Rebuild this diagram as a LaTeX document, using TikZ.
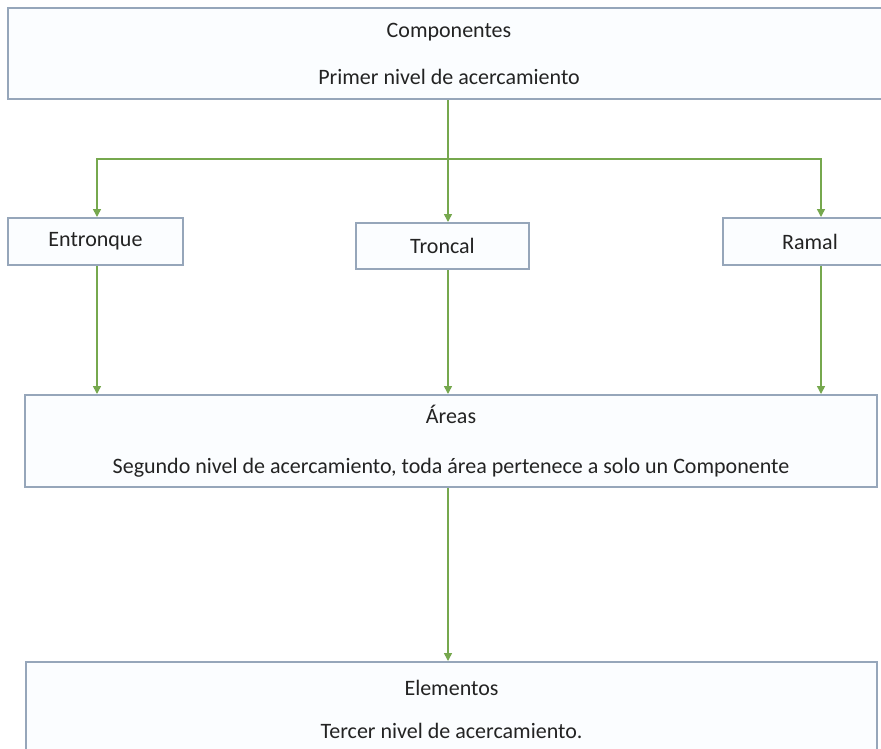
\documentclass[tikz,border=0pt]{standalone}
\usepackage{fontspec}
\setmainfont{Carlito}
\usetikzlibrary{arrows.meta}
\definecolor{boxline}{RGB}{150,166,186}
\definecolor{boxfill}{RGB}{251,253,255}
\definecolor{flecha}{RGB}{118,168,78}
\definecolor{texto}{RGB}{35,35,35}

\tikzset{
  nivel/.style={draw=boxline, line width=2pt, fill=boxfill, inner sep=0pt, align=center, text=texto},
  liga/.style={draw=flecha, line width=1.5pt, -{Triangle[width=8pt,length=8pt]}},
}

\begin{document}
\begin{tikzpicture}[x=1pt,y=-1pt,font=\fontsize{22}{26}\selectfont]
  \clip (0,0) rectangle (881,748);
  \fill[white] (0,0) rectangle (881,748);

  % primer nivel
  \node[nivel, minimum width=882pt, minimum height=91pt] (comp) at (449,53.5)
    {Componentes\\[21pt]Primer nivel de acercamiento};
  \node[nivel, minimum width=175pt, minimum height=47pt] (entronque) at (95.5,241.5) {Entronque};
  \node[nivel, minimum width=173pt, minimum height=46pt] (troncal) at (442.5,246) {Troncal};
  \node[nivel, minimum width=174pt, minimum height=47pt] (ramal) at (810,241.5) {Ramal};

  % segundo nivel
  \node[nivel, minimum width=852pt, minimum height=92pt] (areas) at (451,441)
    {Áreas\\[24pt]Segundo nivel de acercamiento, toda área pertenece a solo un Componente};

  % tercer nivel
  \node[nivel, minimum width=851pt, minimum height=94pt] (elem) at (451.5,709)
    {Elementos\\[17pt]Tercer nivel de acercamiento.};

  \coordinate (split) at (448,159);
  \draw[liga] (comp.south -| split) -- (troncal.north -| split);
  \draw[liga] (split) -| ([xshift=1.5pt]entronque.north);
  \draw[liga] (split) -| ([xshift=11pt]ramal.north);

  \draw[liga] ([xshift=1.5pt]entronque.south) -- ([xshift=1.5pt]entronque.south |- areas.north);
  \draw[liga] (troncal.south -| split) -- (areas.north -| split);
  \draw[liga] ([xshift=11pt]ramal.south) -- ([xshift=11pt]ramal.south |- areas.north);

  \draw[liga] (areas.south -| split) -- (elem.north -| split);
\end{tikzpicture}
\end{document}
